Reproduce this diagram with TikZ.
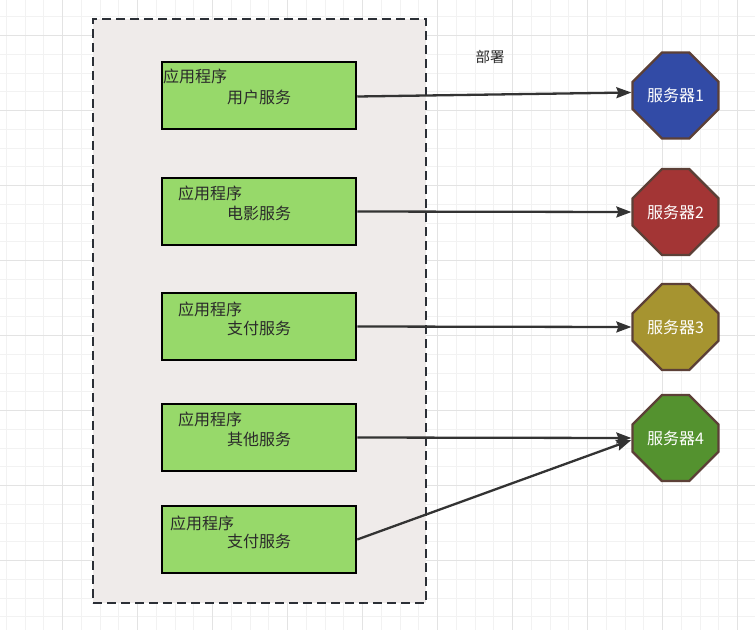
\documentclass[tikz,border=0pt]{standalone}
\usepackage{fontspec}
\newfontfamily\cjk{Noto Sans CJK SC}
\usetikzlibrary{arrows.meta,shapes.misc}
\definecolor{gridminor}{HTML}{F2F2F2}
\definecolor{gridmajor}{HTML}{E3E3E3}
\definecolor{contfill}{HTML}{EFEBEA}
\definecolor{contdraw}{HTML}{2B2F36}
\definecolor{appfill}{HTML}{97D96A}
\definecolor{txt}{HTML}{2A2A2A}
\definecolor{linkc}{HTML}{333333}
\definecolor{srvborder}{HTML}{5C4037}
\definecolor{srvA}{HTML}{324BA6}
\definecolor{srvB}{HTML}{A33535}
\definecolor{srvC}{HTML}{A69430}
\definecolor{srvD}{HTML}{54922F}
\tikzset{
  appbox/.style={draw=black, line width=2.5pt, fill=appfill, minimum width=194pt, minimum height=67pt, inner sep=0pt},
  apptitle/.style={font=\cjk\fontsize{16}{19}\selectfont, text=txt, anchor=west, inner sep=0pt},
  appname/.style={font=\cjk\fontsize{16}{19}\selectfont, text=txt, inner sep=0pt},
  server/.style={chamfered rectangle, chamfered rectangle xsep=22pt, chamfered rectangle ysep=22pt,
     draw=srvborder, line width=2.3pt, minimum width=86pt, minimum height=86pt, inner sep=0pt,
     text=white, font=\cjk\fontsize{16}{19}\selectfont},
  link/.style={draw=linkc, line width=2.3pt, -{Stealth[length=15pt,width=11pt,inset=2pt]}},
}
\begin{document}
\begin{tikzpicture}[x=1pt,y=-1pt]
\useasboundingbox (0,0) rectangle (755,630);
\fill[white] (0,0) rectangle (755,630);
% grid
\foreach \i in {0,...,40} {
  \pgfmathsetmacro\gx{6.25+18.75*\i}
  \draw[gridminor, line width=1pt] (\gx,0) -- (\gx,630);
}
\foreach \i in {0,...,33} {
  \pgfmathsetmacro\gy{-2+18.75*\i}
  \draw[gridminor, line width=1pt] (0,\gy) -- (755,\gy);
}
\foreach \i in {0,...,9} {
  \pgfmathsetmacro\gx{62.5+75*\i}
  \draw[gridmajor, line width=1pt] (\gx,0) -- (\gx,630);
}
\foreach \i in {0,...,7} {
  \pgfmathsetmacro\gy{35.5+75*\i}
  \draw[gridmajor, line width=1pt] (0,\gy) -- (755,\gy);
}
% container
\node[draw=contdraw, fill=contfill, line width=2.3pt, dash pattern=on 9pt off 5pt,
      minimum width=333pt, minimum height=584pt, inner sep=0pt] (cont) at (259.5,311) {};
\node[font=\cjk\fontsize{14.5}{17}\selectfont, text=txt] (deploy) at (490,57) {部署};
% app boxes
\node[appbox] (a1) at (259,95.5) {};
\node[appbox] (a2) at (259,211.5) {};
\node[appbox] (a3) at (259,326.5) {};
\node[appbox] (a4) at (259,437.5) {};
\node[appbox] (a5) at (259,539.5) {};
\node[apptitle] (t1) at (163,76) {应用程序};
\node[appname]  (n1) at (259,97.5) {用户服务};
\node[apptitle] (t2) at (178,193) {应用程序};
\node[appname]  (n2) at (259,213) {电影服务};
\node[apptitle] (t3) at (178,309) {应用程序};
\node[appname]  (n3) at (259,328) {支付服务};
\node[apptitle] (t4) at (178,419) {应用程序};
\node[appname]  (n4) at (259,439) {其他服务};
\node[apptitle] (t5) at (170,523) {应用程序};
\node[appname]  (n5) at (259,541) {支付服务};
% servers
\node[server, fill=srvA] (s1) at (675.5,95.5) {服务器1};
\node[server, fill=srvB] (s2) at (675.5,212) {服务器2};
\node[server, fill=srvC] (s3) at (675.5,327) {服务器3};
\node[server, fill=srvD] (s4) at (675.5,438) {服务器4};
% links
\draw[link] ([yshift=-1pt]a1.east) -- ([yshift=3pt]s1.west);
\draw[link] (a2.east) -- (s2.west);
\draw[link] (a3.east) -- (s3.west);
\draw[link] (a4.east) -- (s4.west);
\draw[link] (a5.east) -- ([yshift=-2pt]s4.west);
\end{tikzpicture}
\end{document}
